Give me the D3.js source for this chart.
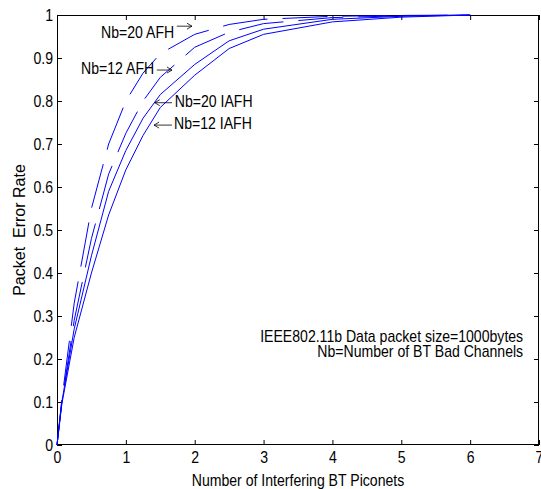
<!DOCTYPE html>
<html>
<head>
<meta charset="utf-8">
<script src="https://cdn.jsdelivr.net/npm/d3@7"></script>
<style>
  body { margin: 0; background: #fff; }
  svg { display: block; font-family: "Liberation Sans", Arial, sans-serif; }
</style>
</head>
<body>
<div class="canvas"></div>
<script>
// data
const piconets = [0, 0.07, 0.25, 0.5, 0.75, 1, 1.25, 1.5, 2, 2.5, 3, 4, 5, 6];
const nb20Afh = [0, 0.105, 0.33, 0.55, 0.70, 0.80, 0.865, 0.91, 0.955, 0.978, 0.99, 0.997, 0.999, 1];
const nb12Afh = [0, 0.10, 0.29, 0.48, 0.63, 0.725, 0.80, 0.855, 0.925, 0.96, 0.98, 0.994, 0.998, 1];
const nb20Iafh = [0, 0.10, 0.27, 0.44, 0.59, 0.685, 0.76, 0.815, 0.885, 0.94, 0.967, 0.99, 0.997, 1];
const nb12Iafh = [0, 0.095, 0.25, 0.40, 0.535, 0.64, 0.72, 0.785, 0.86, 0.922, 0.955, 0.984, 0.995, 1];

const xTicks = [0, 1, 2, 3, 4, 5, 6, 7];
const yTicks = [0, 0.1, 0.2, 0.3, 0.4, 0.5, 0.6, 0.7, 0.8, 0.9, 1];

const series = [
  { name: "Nb=20 AFH", values: nb20Afh, dashed: true },
  { name: "Nb=12 AFH", values: nb12Afh, dashed: true },
  { name: "Nb=20 IAFH", values: nb20Iafh, dashed: false },
  { name: "Nb=12 IAFH", values: nb12Iafh, dashed: false },
];

// labels with arrows, in data units
const labels = [
  { text: "Nb=20 AFH", tx: 0.64, ty: 0.946, from: 1.74, to: 1.96, ay: 0.974 },
  { text: "Nb=12 AFH", tx: 0.35, ty: 0.863, from: 1.45, to: 1.67, ay: 0.872 },
  { text: "Nb=20 IAFH", tx: 1.71, ty: 0.785, from: 1.67, to: 1.42, ay: 0.796 },
  { text: "Nb=12 IAFH", tx: 1.70, ty: 0.736, from: 1.67, to: 1.41, ay: 0.744 },
];

const notes = ["IEEE802.11b Data packet size=1000bytes", "Nb=Number of BT Bad Channels"];

const margins = { top: 15, right: 2, bottom: 44, left: 57 };
const width = 541;
const height = 489;
const graphWidth = width - margins.left - margins.right;
const graphHeight = height - margins.top - margins.bottom;
const sx = 0.88; // the text in the picture is a bit narrow

const svg = d3
  .select(".canvas")
  .append("svg")
  .attr("width", width)
  .attr("height", height)
  .style("font-size", "16px");

const graph = svg
  .append("g")
  .attr("transform", `translate(${margins.left}, ${margins.top})`);

// squeeze horizontal text
const squeeze = (sel) =>
  sel.each(function () {
    const t = d3.select(this);
    const x0 = +t.attr("x") || 0;
    t.attr("x", x0 / sx).attr("transform", `scale(${sx},1)`);
  });

// scales
const x = d3.scaleLinear().domain([0, 7]).range([0, graphWidth]);
const y = d3.scaleLinear().domain([0, 1]).range([graphHeight, 0]);

// axes
const xAxis = d3.axisBottom(x).tickValues(xTicks).tickSizeInner(-5).tickSizeOuter(0).tickPadding(7).tickFormat(d3.format("d"));
const yAxis = d3.axisLeft(y).tickValues(yTicks).tickSizeInner(-5).tickSizeOuter(0).tickPadding(4).tickFormat((d) => String(+d.toFixed(1)));
const xTop = d3.axisTop(x).tickValues(xTicks).tickSizeInner(-5).tickSizeOuter(0).tickFormat("");
const yRight = d3.axisRight(y).tickValues(yTicks).tickSizeInner(-5).tickSizeOuter(0).tickFormat("");

const styleAxis = (g) => {
  g.select(".domain").remove();
  g.selectAll("line").attr("stroke", "#000");
  g.selectAll("text")
    .attr("fill", "#000")
    .style("font-size", "16px")
    .style("font-family", "'Liberation Sans', Arial, sans-serif")
    .call(squeeze);
};

graph.append("g").attr("transform", `translate(0, ${graphHeight})`).call(xAxis).call(styleAxis);
graph.append("g").call(yAxis).call(styleAxis);
graph.append("g").call(xTop).call(styleAxis);
graph.append("g").attr("transform", `translate(${graphWidth}, 0)`).call(yRight).call(styleAxis);

// frame
graph
  .append("rect")
  .attr("x", 0.5)
  .attr("y", 0.5)
  .attr("width", graphWidth - 1)
  .attr("height", graphHeight - 1)
  .attr("fill", "none")
  .attr("stroke", "#000");

// curves
const line = d3
  .line()
  .x((d) => x(d[0]))
  .y((d) => y(d[1]));

graph
  .selectAll("path.curve")
  .data(series)
  .enter()
  .append("path")
  .attr("class", "curve")
  .attr("fill", "none")
  .attr("stroke", "#0000ff")
  .attr("stroke-width", 1)
  .attr("stroke-dasharray", (d) => (d.dashed ? "45,15" : null))
  .attr("d", (d) => line(piconets.map((p, i) => [p, d.values[i]])));

// labels + arrows
const ann = graph.append("g").attr("fill", "#000");
labels.forEach((l) => {
  ann.append("text").attr("x", x(l.tx)).attr("y", y(l.ty)).text(l.text).call(squeeze);
  const x1 = x(l.from);
  const x2 = x(l.to);
  const ay = y(l.ay);
  const dir = x2 > x1 ? 1 : -1;
  ann
    .append("path")
    .attr("fill", "none")
    .attr("stroke", "#000")
    .attr("stroke-width", 0.8)
    .attr("d", `M${x1},${ay}H${x2}M${x2 - dir * 5},${ay - 3}L${x2},${ay}L${x2 - dir * 5},${ay + 3}`);
});

// note text
graph
  .append("g")
  .selectAll("text")
  .data(notes)
  .enter()
  .append("text")
  .attr("x", x(6.77))
  .attr("y", (d, i) => y(i === 0 ? 0.2395 : 0.205))
  .attr("text-anchor", "end")
  .text((d) => d)
  .call(squeeze);

// axis titles
svg
  .append("text")
  .attr("x", margins.left + graphWidth / 2)
  .attr("y", 486)
  .attr("text-anchor", "middle")
  .text("Number of Interfering BT Piconets")
  .call(squeeze);

svg
  .append("text")
  .attr("transform", `translate(25, ${margins.top + graphHeight / 2}) rotate(-90)`)
  .attr("text-anchor", "middle")
  .style("white-space", "pre")
  .text("Packet  Error Rate");
</script>
</body>
</html>
